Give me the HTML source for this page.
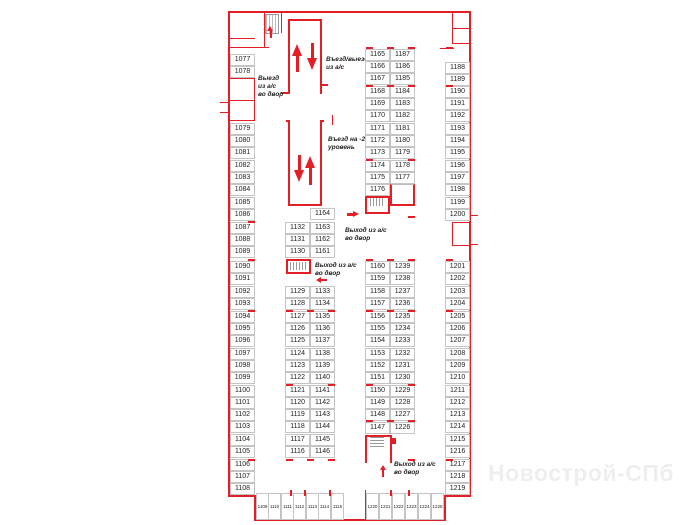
<!DOCTYPE html>
<html><head><meta charset="utf-8"><style>
body{margin:0;width:700px;height:525px;background:#fff;position:relative;overflow:hidden;font-family:"Liberation Sans",sans-serif}
div{position:absolute;box-sizing:border-box}
.c{width:25px;height:12px;border:1px solid #c4c4c4;background:#fff;font-size:7px;line-height:10px;text-align:center;color:#222}
.w{background:#e31e24}
.b{width:13px;height:27px;border:1px solid #c4c4c4;font-size:4.5px;line-height:25px;text-align:center;color:#222;top:493px}
.t{font-size:6.5px;font-style:italic;font-weight:bold;color:#222;line-height:8px;white-space:nowrap}
.m{width:7px;height:2px;background:#e31e24}
</style></head><body>
<!-- outer walls -->
<div class="w" style="left:228px;top:11px;width:243px;height:2px"></div>
<div class="w" style="left:228px;top:11px;width:2px;height:486px"></div>
<div class="w" style="left:469px;top:11px;width:2px;height:486px"></div>
<div class="w" style="left:228px;top:495px;width:28px;height:2px"></div>
<div class="w" style="left:444px;top:495px;width:27px;height:2px"></div>
<div class="w" style="left:254px;top:495px;width:2px;height:26px"></div>
<div class="w" style="left:444px;top:495px;width:2px;height:26px"></div>
<div class="w" style="left:254px;top:519px;width:192px;height:2px"></div>
<div class="w" style="left:365px;top:490px;width:1px;height:30px"></div>
<!-- top-left rooms -->
<div class="w" style="left:229px;top:38px;width:26px;height:1px"></div>
<div class="w" style="left:229px;top:47px;width:40px;height:1px"></div>
<div class="w" style="left:229px;top:78px;width:25px;height:1px"></div>
<div class="w" style="left:254px;top:78px;width:1px;height:22px"></div>
<div class="w" style="left:229px;top:100px;width:25px;height:1px"></div>
<div class="w" style="left:254px;top:100px;width:1px;height:20px"></div>
<div class="w" style="left:229px;top:120px;width:26px;height:1px"></div>
<div class="w" style="left:220px;top:102px;width:9px;height:1px"></div>
<div class="w" style="left:220px;top:112px;width:9px;height:1px"></div>
<div style="left:265px;top:14px;width:14px;height:20px;border:1px solid #999;background:repeating-linear-gradient(90deg,#bbb 0 1px,#fff 1px 3px)"></div>
<div class="w" style="left:264px;top:13px;width:1px;height:34px"></div>
<div class="w" style="left:281px;top:13px;width:1px;height:20px"></div>
<div class="w" style="left:270px;top:30px;width:2px;height:8px"></div>
<div style="left:267px;top:26px;border-left:3px solid transparent;border-right:3px solid transparent;border-bottom:5px solid #e31e24"></div>
<!-- top-right rooms -->
<div class="w" style="left:452px;top:13px;width:1px;height:30px"></div>
<div class="w" style="left:452px;top:28px;width:17px;height:1px"></div>
<div class="w" style="left:452px;top:43px;width:17px;height:1px"></div>
<div class="w" style="left:440px;top:48px;width:14px;height:1px"></div>
<div class="w" style="left:452px;top:222px;width:17px;height:1px"></div>
<div class="w" style="left:452px;top:222px;width:1px;height:23px"></div>
<div class="w" style="left:452px;top:245px;width:17px;height:1px"></div>
<div class="w" style="left:470px;top:215px;width:8px;height:1px"></div>
<div class="w" style="left:470px;top:244px;width:8px;height:1px"></div>
<!-- ramps -->
<div style="left:288px;top:19px;width:34px;height:75px;border:2px solid #e31e24;border-bottom:none"></div>
<div class="w" style="left:281px;top:92px;width:9px;height:2px"></div>
<div class="w" style="left:322px;top:84px;width:6px;height:2px"></div>
<div style="left:288px;top:122px;width:34px;height:84px;border:2px solid #e31e24;border-top:none"></div>
<div class="w" style="left:286px;top:120px;width:4px;height:2px"></div>
<div class="w" style="left:320px;top:120px;width:4px;height:2px"></div>
<div class="w" style="left:332px;top:115px;width:1px;height:10px"></div>
<!-- arrows -->
<div class="w" style="left:296px;top:55px;width:3px;height:17px"></div>
<div style="left:292px;top:44px;border-left:5px solid transparent;border-right:5px solid transparent;border-bottom:12px solid #e31e24"></div>
<div class="w" style="left:311px;top:43px;width:3px;height:17px"></div>
<div style="left:307px;top:58px;border-left:5px solid transparent;border-right:5px solid transparent;border-top:12px solid #e31e24"></div>
<div class="w" style="left:298px;top:155px;width:3px;height:17px"></div>
<div style="left:294px;top:170px;border-left:5px solid transparent;border-right:5px solid transparent;border-top:12px solid #e31e24"></div>
<div class="w" style="left:309px;top:168px;width:3px;height:17px"></div>
<div style="left:305px;top:156px;border-left:5px solid transparent;border-right:5px solid transparent;border-bottom:12px solid #e31e24"></div>
<!-- stair boxes -->
<div style="left:365px;top:196px;width:25px;height:18px;border:2px solid #e31e24;background:#fff"></div>
<div style="left:370px;top:198px;width:14px;height:8px;background:repeating-linear-gradient(90deg,#999 0 1px,#fff 1px 3px)"></div>
<div style="left:390px;top:184px;width:25px;height:22px;border:2px solid #e31e24;border-top:1px solid #bbb"></div>
<div style="left:286px;top:259px;width:25px;height:15px;border:2px solid #e31e24"></div>
<div style="left:290px;top:262px;width:16px;height:8px;background:repeating-linear-gradient(90deg,#999 0 1px,#fff 1px 3px)"></div>
<div style="left:365px;top:435px;width:27px;height:28px;border:2px solid #e31e24;border-bottom:none"></div>
<div style="left:370px;top:437px;width:14px;height:10px;background:repeating-linear-gradient(0deg,#999 0 1px,#fff 1px 3px)"></div>
<div class="w" style="left:392px;top:438px;width:4px;height:6px"></div>
<!-- red arrows small -->
<div class="w" style="left:347px;top:213px;width:6px;height:3px"></div>
<div style="left:353px;top:211px;border-top:3.5px solid transparent;border-bottom:3.5px solid transparent;border-left:6px solid #e31e24"></div>
<div class="w" style="left:321px;top:279px;width:6px;height:2px"></div>
<div style="left:316px;top:277px;border-top:3px solid transparent;border-bottom:3px solid transparent;border-right:5px solid #e31e24"></div>
<div class="w" style="left:382px;top:470px;width:2px;height:7px"></div>
<div style="left:380px;top:465px;border-left:3px solid transparent;border-right:3px solid transparent;border-bottom:5px solid #e31e24"></div>
<!-- labels -->
<div class="t" style="left:326px;top:56px">Въезд/выезд<br>из а/с</div>
<div class="t" style="left:258px;top:75px">Выезд<br>из а/с<br>во двор</div>
<div class="t" style="left:328px;top:136px">Въезд на -2<br>уровень</div>
<div class="t" style="left:345px;top:227px">Выход из а/с<br>во двор</div>
<div class="t" style="left:315px;top:262px">Выход из а/с<br>во двор</div>
<div class="t" style="left:394px;top:461px">Выход из а/с<br>во двор</div>
<div style="left:488px;top:460px;font-size:23px;color:#eeeeee;font-weight:bold;white-space:nowrap;letter-spacing:0.5px">Новострой-СПб</div>
<!-- left column -->
<div class="c" style="left:230px;top:54px">1077</div><div class="c" style="left:230px;top:66px">1078</div>
<div class="c" style="left:230px;top:123px">1079</div><div class="c" style="left:230px;top:135px">1080</div><div class="c" style="left:230px;top:147px">1081</div><div class="c" style="left:230px;top:160px">1082</div><div class="c" style="left:230px;top:172px">1083</div><div class="c" style="left:230px;top:184px">1084</div><div class="c" style="left:230px;top:197px">1085</div><div class="c" style="left:230px;top:209px">1086</div><div class="c" style="left:230px;top:222px">1087</div><div class="c" style="left:230px;top:234px">1088</div><div class="c" style="left:230px;top:246px">1089</div><div class="c" style="left:230px;top:261px">1090</div><div class="c" style="left:230px;top:273px">1091</div><div class="c" style="left:230px;top:286px">1092</div><div class="c" style="left:230px;top:298px">1093</div><div class="c" style="left:230px;top:311px">1094</div><div class="c" style="left:230px;top:323px">1095</div><div class="c" style="left:230px;top:335px">1096</div><div class="c" style="left:230px;top:348px">1097</div><div class="c" style="left:230px;top:360px">1098</div><div class="c" style="left:230px;top:372px">1099</div><div class="c" style="left:230px;top:385px">1100</div><div class="c" style="left:230px;top:397px">1101</div><div class="c" style="left:230px;top:409px">1102</div><div class="c" style="left:230px;top:421px">1103</div><div class="c" style="left:230px;top:434px">1104</div><div class="c" style="left:230px;top:446px">1105</div><div class="c" style="left:230px;top:459px">1106</div><div class="c" style="left:230px;top:471px">1107</div><div class="c" style="left:230px;top:483px">1108</div>
<!-- right column -->
<div class="c" style="left:445px;top:62px">1188</div><div class="c" style="left:445px;top:74px">1189</div><div class="c" style="left:445px;top:86px">1190</div><div class="c" style="left:445px;top:98px">1191</div><div class="c" style="left:445px;top:110px">1192</div><div class="c" style="left:445px;top:123px">1193</div><div class="c" style="left:445px;top:135px">1194</div><div class="c" style="left:445px;top:147px">1195</div><div class="c" style="left:445px;top:160px">1196</div><div class="c" style="left:445px;top:172px">1197</div><div class="c" style="left:445px;top:184px">1198</div><div class="c" style="left:445px;top:197px">1199</div><div class="c" style="left:445px;top:209px">1200</div>
<div class="c" style="left:445px;top:261px">1201</div><div class="c" style="left:445px;top:273px">1202</div><div class="c" style="left:445px;top:286px">1203</div><div class="c" style="left:445px;top:298px">1204</div><div class="c" style="left:445px;top:311px">1205</div><div class="c" style="left:445px;top:323px">1206</div><div class="c" style="left:445px;top:335px">1207</div><div class="c" style="left:445px;top:348px">1208</div><div class="c" style="left:445px;top:360px">1209</div><div class="c" style="left:445px;top:372px">1210</div><div class="c" style="left:445px;top:385px">1211</div><div class="c" style="left:445px;top:397px">1212</div><div class="c" style="left:445px;top:409px">1213</div><div class="c" style="left:445px;top:421px">1214</div><div class="c" style="left:445px;top:434px">1215</div><div class="c" style="left:445px;top:446px">1216</div><div class="c" style="left:445px;top:459px">1217</div><div class="c" style="left:445px;top:471px">1218</div><div class="c" style="left:445px;top:483px">1219</div>
<!-- pair 1 -->
<div class="c" style="left:310px;top:208px">1164</div>
<div class="c" style="left:285px;top:222px">1132</div><div class="c" style="left:310px;top:222px">1163</div>
<div class="c" style="left:285px;top:234px">1131</div><div class="c" style="left:310px;top:234px">1162</div>
<div class="c" style="left:285px;top:246px">1130</div><div class="c" style="left:310px;top:246px">1161</div>
<div class="c" style="left:285px;top:286px">1129</div><div class="c" style="left:310px;top:286px">1133</div>
<div class="c" style="left:285px;top:298px">1128</div><div class="c" style="left:310px;top:298px">1134</div>
<div class="c" style="left:285px;top:311px">1127</div><div class="c" style="left:310px;top:311px">1135</div>
<div class="c" style="left:285px;top:323px">1126</div><div class="c" style="left:310px;top:323px">1136</div>
<div class="c" style="left:285px;top:335px">1125</div><div class="c" style="left:310px;top:335px">1137</div>
<div class="c" style="left:285px;top:348px">1124</div><div class="c" style="left:310px;top:348px">1138</div>
<div class="c" style="left:285px;top:360px">1123</div><div class="c" style="left:310px;top:360px">1139</div>
<div class="c" style="left:285px;top:372px">1122</div><div class="c" style="left:310px;top:372px">1140</div>
<div class="c" style="left:285px;top:385px">1121</div><div class="c" style="left:310px;top:385px">1141</div>
<div class="c" style="left:285px;top:397px">1120</div><div class="c" style="left:310px;top:397px">1142</div>
<div class="c" style="left:285px;top:409px">1119</div><div class="c" style="left:310px;top:409px">1143</div>
<div class="c" style="left:285px;top:421px">1118</div><div class="c" style="left:310px;top:421px">1144</div>
<div class="c" style="left:285px;top:434px">1117</div><div class="c" style="left:310px;top:434px">1145</div>
<div class="c" style="left:285px;top:446px">1116</div><div class="c" style="left:310px;top:446px">1146</div>
<!-- pair 2 -->
<div class="c" style="left:365px;top:49px">1165</div><div class="c" style="left:390px;top:49px">1187</div>
<div class="c" style="left:365px;top:61px">1166</div><div class="c" style="left:390px;top:61px">1186</div>
<div class="c" style="left:365px;top:73px">1167</div><div class="c" style="left:390px;top:73px">1185</div>
<div class="c" style="left:365px;top:86px">1168</div><div class="c" style="left:390px;top:86px">1184</div>
<div class="c" style="left:365px;top:98px">1169</div><div class="c" style="left:390px;top:98px">1183</div>
<div class="c" style="left:365px;top:110px">1170</div><div class="c" style="left:390px;top:110px">1182</div>
<div class="c" style="left:365px;top:123px">1171</div><div class="c" style="left:390px;top:123px">1181</div>
<div class="c" style="left:365px;top:135px">1172</div><div class="c" style="left:390px;top:135px">1180</div>
<div class="c" style="left:365px;top:147px">1173</div><div class="c" style="left:390px;top:147px">1179</div>
<div class="c" style="left:365px;top:160px">1174</div><div class="c" style="left:390px;top:160px">1178</div>
<div class="c" style="left:365px;top:172px">1175</div><div class="c" style="left:390px;top:172px">1177</div>
<div class="c" style="left:365px;top:184px">1176</div>
<div class="c" style="left:365px;top:261px">1160</div><div class="c" style="left:390px;top:261px">1239</div>
<div class="c" style="left:365px;top:273px">1159</div><div class="c" style="left:390px;top:273px">1238</div>
<div class="c" style="left:365px;top:286px">1158</div><div class="c" style="left:390px;top:286px">1237</div>
<div class="c" style="left:365px;top:298px">1157</div><div class="c" style="left:390px;top:298px">1236</div>
<div class="c" style="left:365px;top:311px">1156</div><div class="c" style="left:390px;top:311px">1235</div>
<div class="c" style="left:365px;top:323px">1155</div><div class="c" style="left:390px;top:323px">1234</div>
<div class="c" style="left:365px;top:335px">1154</div><div class="c" style="left:390px;top:335px">1233</div>
<div class="c" style="left:365px;top:348px">1153</div><div class="c" style="left:390px;top:348px">1232</div>
<div class="c" style="left:365px;top:360px">1152</div><div class="c" style="left:390px;top:360px">1231</div>
<div class="c" style="left:365px;top:372px">1151</div><div class="c" style="left:390px;top:372px">1230</div>
<div class="c" style="left:365px;top:385px">1150</div><div class="c" style="left:390px;top:385px">1229</div>
<div class="c" style="left:365px;top:397px">1149</div><div class="c" style="left:390px;top:397px">1228</div>
<div class="c" style="left:365px;top:409px">1148</div><div class="c" style="left:390px;top:409px">1227</div>
<div class="c" style="left:365px;top:422px">1147</div><div class="c" style="left:390px;top:422px">1226</div>
<!-- red markers -->
<div class="m" style="left:366px;top:47px"></div><div class="m" style="left:387px;top:47px"></div><div class="m" style="left:408px;top:47px"></div>
<div class="m" style="left:366px;top:85px"></div><div class="m" style="left:387px;top:85px"></div><div class="m" style="left:408px;top:85px"></div>
<div class="m" style="left:366px;top:159px"></div><div class="m" style="left:408px;top:159px"></div>
<div class="m" style="left:366px;top:259px"></div><div class="m" style="left:387px;top:259px"></div><div class="m" style="left:408px;top:259px"></div>
<div class="m" style="left:366px;top:310px"></div><div class="m" style="left:387px;top:310px"></div><div class="m" style="left:408px;top:310px"></div>
<div class="m" style="left:366px;top:384px"></div><div class="m" style="left:408px;top:384px"></div>
<div class="m" style="left:366px;top:420px"></div><div class="m" style="left:387px;top:420px"></div><div class="m" style="left:408px;top:420px"></div>
<div class="m" style="left:286px;top:310px"></div><div class="m" style="left:307px;top:310px"></div><div class="m" style="left:328px;top:310px"></div>
<div class="m" style="left:286px;top:384px"></div><div class="m" style="left:328px;top:384px"></div>
<div class="m" style="left:286px;top:459px"></div><div class="m" style="left:307px;top:459px"></div><div class="m" style="left:328px;top:459px"></div>
<div class="m" style="left:248px;top:259px"></div><div class="m" style="left:248px;top:310px"></div><div class="m" style="left:248px;top:459px"></div><div class="m" style="left:248px;top:221px"></div>
<div class="m" style="left:446px;top:259px"></div><div class="m" style="left:446px;top:310px"></div><div class="m" style="left:446px;top:459px"></div><div class="m" style="left:446px;top:47px"></div><div class="m" style="left:446px;top:85px"></div>
<div class="m" style="left:408px;top:216px"></div><div class="m" style="left:408px;top:459px"></div>
<!-- bottom row -->
<div class="b" style="left:256px">1109</div><div class="b" style="left:268px">1110</div><div class="b" style="left:281px">1111</div><div class="b" style="left:293px">1112</div><div class="b" style="left:306px">1113</div><div class="b" style="left:318px">1114</div><div class="b" style="left:331px">1115</div>
<div class="b" style="left:366px">1220</div><div class="b" style="left:379px">1221</div><div class="b" style="left:392px">1222</div><div class="b" style="left:405px">1223</div><div class="b" style="left:418px">1224</div><div class="b" style="left:431px">1225</div>
<div class="w" style="left:290px;top:490px;width:2px;height:6px"></div><div class="w" style="left:304px;top:490px;width:2px;height:6px"></div><div class="w" style="left:329px;top:490px;width:2px;height:6px"></div><div class="w" style="left:390px;top:490px;width:2px;height:6px"></div><div class="w" style="left:408px;top:490px;width:2px;height:6px"></div>
</body></html>
